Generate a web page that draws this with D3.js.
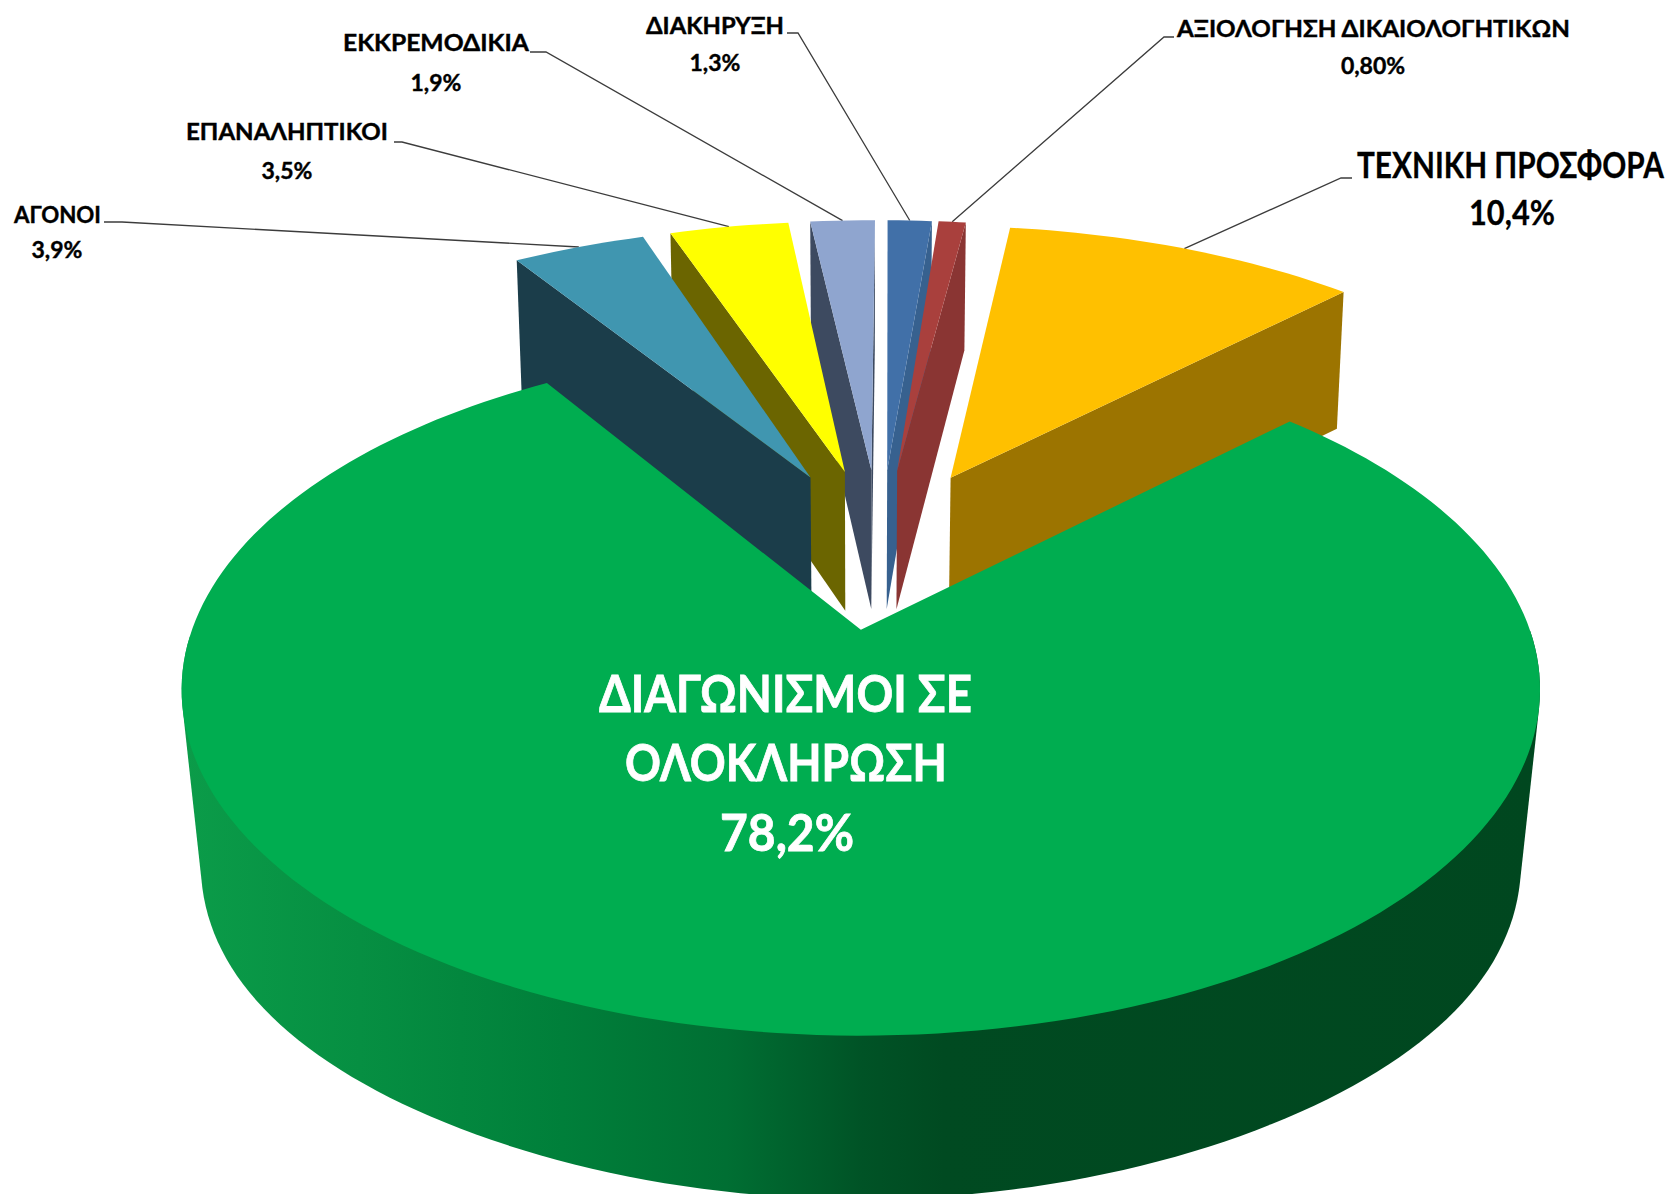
<!DOCTYPE html>
<html>
<head>
<meta charset="utf-8">
<title>Διαγωνισμοί</title>
<script src="https://cdn.jsdelivr.net/npm/d3@7"></script>
<style>
  html, body { margin: 0; padding: 0; background: #fff; }
  svg { display: block; }
  text { font-family: "Lato", "Noto Sans", sans-serif; font-weight: 700; }
</style>
</head>
<body>
<div id="chart"></div>
<script>
// Data, clockwise from the big slice
const categories = ["ΔΙΑΓΩΝΙΣΜΟΙ ΣΕ ΟΛΟΚΛΗΡΩΣΗ", "ΑΓΟΝΟΙ", "ΕΠΑΝΑΛΗΠΤΙΚΟΙ", "ΕΚΚΡΕΜΟΔΙΚΙΑ", "ΔΙΑΚΗΡΥΞΗ", "ΑΞΙΟΛΟΓΗΣΗ ΔΙΚΑΙΟΛΟΓΗΤΙΚΩΝ", "ΤΕΧΝΙΚΗ ΠΡΟΣΦΟΡΑ"];
const values = [78.2, 3.9, 3.5, 1.9, 1.3, 0.8, 10.4];
const valueLabels = ["78,2%", "3,9%", "3,5%", "1,9%", "1,3%", "0,80%", "10,4%"];
const topColors = ["#00ad50", "#4096b0", "#ffff00", "#8fa5cf", "#4170a8", "#a9403d", "#ffc000"];
const sideColors = ["#00ad50", "#1b3d4a", "#6b6500", "#3d4a60", "#37618f", "#8a3533", "#9c7400"];

// Perspective model of the tilted pie
const width = 1672, height = 1194;
const focusX = 863, focusY = 630;
const radius = 669, tiltY = 335.6, persp = 0.1734;
const center = { x: 0.027, y: -0.259 };
const explode = 0.26;
const dropBase = 118, dropGrow = 0.044, dropSides = 24;
// small per-slice turn (degrees) so the wedges sit where the original has them
const angleNudge = [0.9, 0.9, 0.6, 0.5, 0.4, 0.2, 0];

// walls lean inward more toward the front of the pie
const converge = d3.scaleLinear().domain([300, 690]).range([0.014, 0.028]).clamp(true);

const svg = d3.select("#chart").append("svg")
    .attr("width", width)
    .attr("height", height);

// Side of the big slice gets lighter toward the left
const gradient = svg.append("defs").append("linearGradient")
    .attr("id", "greenWall")
    .attr("gradientUnits", "userSpaceOnUse")
    .attr("x1", 183).attr("x2", 1541).attr("y1", 0).attr("y2", 0);
[[0, "#0b9c49"], [0.13, "#068f42"], [0.28, "#007f3a"], [0.4, "#006f33"], [0.5, "#005326"], [0.56, "#004a21"], [1, "#00471f"]]
    .forEach(s => gradient.append("stop").attr("offset", s[0]).attr("stop-color", s[1]));

// plane coordinates (unit circle) -> screen; z=0 top face, z=1 bottom face
function project(x, y, z) {
    const s = 1 / (1 - persp * y);
    const px = x * radius * s;
    const py = focusY + tiltY * y * s;
    const side = Math.pow(px / 679, 4);
    return [focusX + px * (1 - converge(py) * z), py + z * (dropBase + dropGrow * py + dropSides * side)];
}

const pie = d3.pie().sort(null).value(d => d)
    .startAngle(Math.PI / 4)
    .endAngle(Math.PI / 4 + 2 * Math.PI);
const line = d3.line();

const slices = pie(values).map((d, i) => {
    const turn = angleNudge[i] * Math.PI / 180;
    const start = d.startAngle + turn, end = d.endAngle + turn;
    const mid = (start + end) / 2;
    const ax = center.x + explode * Math.sin(mid);
    const ay = center.y - explode * Math.cos(mid);
    const r = i === 0 ? 1 : 1.03;
    const n = Math.max(4, Math.ceil((end - start) * 40));
    const angles = d3.range(n + 1).map(k => start + (end - start) * k / n);
    const rim = a => [ax + r * Math.sin(a), ay - r * Math.cos(a)];
    return { i, mid, ax, ay, angles, rim, a0: start, a1: end };
});

// Leader lines and labels
const leaderStarts = [null, [[104, 222], [122, 222]], [[394, 142], [402, 142]], [[530, 52], [546, 52]], [[787, 33], [798, 33]], [[1174, 37], [1164, 37]], [[1352, 178], [1341, 178]]];
const nameBoxes = [null, [14, 101, 223], [186, 388, 140], [343, 529, 51], [646, 784, 34], [1177, 1570, 37], [1357, 1664, 178]];
const valueBoxes = [null, [57, 258], [287, 179], [436, 91], [715, 71], [1373, 74], [1511, 225]];

const leaders = svg.append("g");
slices.slice(1).forEach(s => {
    const end = project(...s.rim(s.mid), 0);
    leaders.append("path")
        .attr("d", line([...leaderStarts[s.i], end]))
        .attr("fill", "none")
        .attr("stroke", "#3c3c3c")
        .attr("stroke-width", 1.3);
});

// Painter's order: slices nearest the 12 o'clock line first, big slice last
const order = slices.slice().sort((a, b) =>
    Math.abs(Math.atan2(Math.sin(a.mid), Math.cos(a.mid))) - Math.abs(Math.atan2(Math.sin(b.mid), Math.cos(b.mid))));

const pieG = svg.append("g");
order.forEach(s => {
    const g = pieG.append("g");
    const apexTop = project(s.ax, s.ay, 0), apexBot = project(s.ax, s.ay, 1);

    // outer wall of the big slice: hull of its front rim, top and bottom
    if (s.i === 0) {
        const front = s.angles.filter(a => Math.cos(a) < 0);
        const hull = d3.polygonHull([
            ...front.map(a => project(...s.rim(a), 0)),
            ...front.map(a => project(...s.rim(a), 1))
        ]);
        g.append("path")
            .attr("d", line(hull) + "Z")
            .attr("fill", "url(#greenWall)");
    }

    // radial walls, only the ones turned toward the viewer
    [s.a0, s.a1].forEach((a, k) => {
        const outerTop = project(...s.rim(a), 0), outerBot = project(...s.rim(a), 1);
        const visible = k === 0 ? outerTop[0] < apexTop[0] : outerTop[0] > apexTop[0];
        if (!visible || s.i === 0) return;
        g.append("path")
            .attr("d", line([apexTop, outerTop, outerBot, apexBot]) + "Z")
            .attr("fill", sideColors[s.i]);
    });

    // top face
    g.append("path")
        .attr("d", line([apexTop, ...s.angles.map(a => project(...s.rim(a), 0))]) + "Z")
        .attr("fill", topColors[s.i]);
});

// Squeeze a text to the given width, Calibri is narrower than what we have here
function fitText(sel, x0, x1, y) {
    const w = sel.node().getComputedTextLength();
    sel.attr("transform", `translate(${x0},${y}) scale(${(x1 - x0) / w},1)`);
}

const labels = svg.append("g");
slices.slice(1).forEach(s => {
    const big = s.i === 6;
    const nb = nameBoxes[s.i], vb = valueBoxes[s.i];
    const name = labels.append("text")
        .attr("font-size", big ? 37 : 23)
        .attr("stroke", "#000")
        .attr("stroke-width", big ? 0.3 : 0.4)
        .text(categories[s.i]);
    fitText(name, nb[0], nb[1], nb[2]);
    const val = labels.append("text")
        .attr("font-size", big ? 35 : 23)
        .attr("stroke", "#000")
        .attr("stroke-width", big ? 0.3 : 0.4)
        .text(valueLabels[s.i]);
    if (big) fitText(val, 1469, 1555, vb[1]);
    else val.attr("x", vb[0]).attr("y", vb[1]).attr("text-anchor", "middle");
});

// Text inside the big slice, split on two lines as in the original
const inner = [["ΔΙΑΓΩΝΙΣΜΟΙ ΣΕ", 599, 972, 712], ["ΟΛΟΚΛΗΡΩΣΗ", 625, 947, 781], [valueLabels[0], 720, 854, 851]];
inner.forEach(t => {
    const txt = labels.append("text")
        .attr("fill", "#fff")
        .attr("stroke", "#fff")
        .attr("stroke-width", 0.8)
        .attr("font-size", 52)
        .text(t[0]);
    fitText(txt, t[1], t[2], t[3]);
});
</script>
</body>
</html>
